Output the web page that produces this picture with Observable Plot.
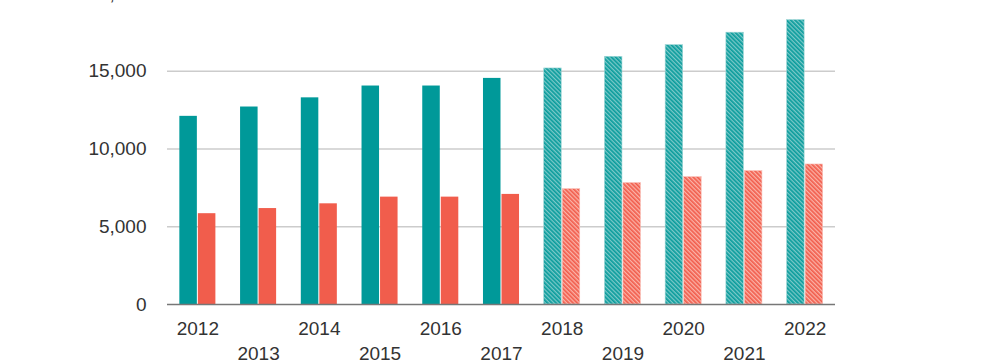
<!DOCTYPE html>
<html>
<head>
<meta charset="utf-8">
<script src="https://cdn.jsdelivr.net/npm/d3@7"></script>
<script src="https://cdn.jsdelivr.net/npm/@observablehq/plot@0.6"></script>
<style>
  html, body { margin: 0; padding: 0; background: #fff; overflow: hidden; }
  #chart svg { display: block; margin-top: -27px; }
</style>
</head>
<body>
<div id="chart"></div>
<script>
const years = [2012, 2013, 2014, 2015, 2016, 2017, 2018, 2019, 2020, 2021, 2022];
const seriesTeal = [12100, 12700, 13290, 14050, 14050, 14540, 15180, 15930, 16680, 17480, 18290];
const seriesRed = [5840, 6170, 6475, 6905, 6905, 7080, 7420, 7810, 8190, 8580, 9005];
const firstProjectedYear = 2018;
const yTicks = [0, 5000, 10000, 15000, 20000];
const evenYears = years.filter(y => y % 2 === 0);
const oddYears = years.filter(y => y % 2 === 1);

const rows = [];
years.forEach((y, i) => {
  rows.push({year: y, series: "teal", value: seriesTeal[i], projected: y >= firstProjectedYear});
  rows.push({year: y, series: "red", value: seriesRed[i], projected: y >= firstProjectedYear});
});

const TEAL = "#009999";
const RED = "#f15d4c";
const font = "'Liberation Sans', Arial, sans-serif";

const W = 1002, ML = 167, MR = 167;
const step = (W - ML - MR) / years.length;
const bandwidth = step * (1 - 0.39);
const half = bandwidth / 2;

const pick = (s, p) => rows.filter(d => d.series === s && d.projected === p);
const tealOpts = {x: "year", y: "value", insetLeft: 0.5, insetRight: half + 0.5};
const redOpts = {x: "year", y: "value", insetLeft: half + 0.5, insetRight: 0.5};
const yearFmt = d => String(d);

const chart = Plot.plot({
  width: W,
  height: 390,
  marginTop: 20,
  marginBottom: 59,
  marginLeft: ML,
  marginRight: MR,
  style: {fontFamily: font, fontSize: "19px", color: "#333"},
  x: {type: "band", domain: years, paddingInner: 0.39, paddingOuter: 0.195, round: false, label: null},
  y: {domain: [0, 20000], label: null},
  marks: [
    Plot.gridY(yTicks.filter(t => t > 0), {stroke: "#cccccc", strokeOpacity: 1, strokeWidth: 1.5}),
    Plot.axisY({ticks: yTicks, tickSize: 0, tickPadding: 21, fontSize: 19, fill: "#333", tickFormat: d3.format(","), label: null}),
    Plot.barY(pick("teal", false), {...tealOpts, fill: TEAL}),
    Plot.barY(pick("red", false), {...redOpts, fill: RED}),
    Plot.barY(pick("teal", true), {...tealOpts, fill: "url(#hatchTeal)", stroke: "#9fd6d6", strokeWidth: 0.6}),
    Plot.barY(pick("red", true), {...redOpts, fill: "url(#hatchRed)", stroke: "#f9c0b8", strokeWidth: 0.6}),
    Plot.ruleY([0], {stroke: "#777", strokeWidth: 1.5}),
    Plot.axisX({anchor: "bottom", ticks: evenYears, tickFormat: yearFmt, tickSize: 0, tickPadding: 17, fontSize: 19, fill: "#333", label: null}),
    Plot.axisX({anchor: "bottom", ticks: oddYears, tickFormat: yearFmt, tickSize: 0, tickPadding: 42, fontSize: 19, fill: "#333", label: null})
  ]
});

const svg = d3.select(chart);
const defs = svg.insert("defs", ":first-child");
function hatch(id, base, light) {
  const p = defs.append("pattern")
    .attr("id", id)
    .attr("patternUnits", "userSpaceOnUse")
    .attr("width", 3)
    .attr("height", 3)
    .attr("patternTransform", "rotate(-45)");
  p.append("rect").attr("width", 3).attr("height", 3).attr("fill", light);
  p.append("rect").attr("width", 1.7).attr("height", 3).attr("fill", base);
}
hatch("hatchTeal", "#0a9c9c", "#7cc9c9");
hatch("hatchRed", "#f15d4c", "#fbb3a8");

document.getElementById("chart").appendChild(chart);
</script>
</body>
</html>
